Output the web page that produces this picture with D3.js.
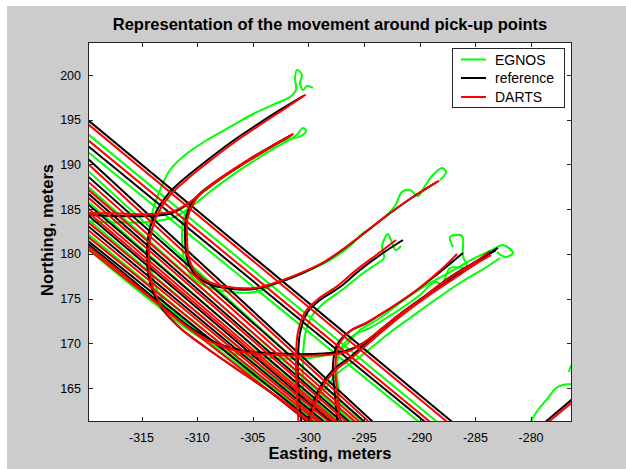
<!DOCTYPE html>
<html>
<head>
<meta charset="utf-8">
<script src="https://cdn.jsdelivr.net/npm/d3@7"></script>
<style>
  body { margin: 0; background: #fff; }
  text { font-family: "Liberation Sans", Arial, sans-serif; fill: #000; }
</style>
</head>
<body>
<svg id="chart" width="626" height="469"></svg>
<script>
// axis ticks
const xTicks = [-315, -310, -305, -300, -295, -290, -285, -280];
const yTicks = [165, 170, 175, 180, 185, 190, 195, 200];
const xDomain = [-319.81, -276.32];
const yDomain = [161.2, 203.69];

const seriesNames = ['EGNOS', 'reference', 'DARTS'];
const seriesColors = ['#00ff00', '#000000', '#ff0000'];

// straight passes through the pick-up area (easting, northing)
const egnosStraight = [
  [[-320.5, 194.10], [-287.75, 160.5]],
  [[-320.5, 192.09], [-289.37, 160.5]],
  [[-320.5, 190.08], [-294.49, 160.5]],
  [[-320.5, 188.29], [-295.39, 160.5]],
  [[-320.5, 186.61], [-296.56, 160.5]],
  [[-320.5, 184.60], [-297.82, 160.5]],
  [[-320.5, 182.92], [-298.71, 160.5]],
  [[-320.5, 181.36], [-298.26, 160.5]]
];
const referenceStraight = [
  [[-320.5, 195.67], [-286.40, 160.5]],
  [[-320.5, 192.76], [-288.83, 160.5]],
  [[-320.5, 191.42], [-293.59, 160.5]],
  [[-320.5, 189.41], [-294.31, 160.5]],
  [[-320.5, 187.51], [-295.66, 160.5]],
  [[-320.5, 186.28], [-296.29, 160.5]],
  [[-320.5, 185.05], [-297.28, 160.5]],
  [[-320.5, 183.82], [-297.91, 160.5]],
  [[-320.5, 182.14], [-298.89, 160.5]],
  [[-279.38, 160.5], [-275.96, 164.11]]
];
const dartsStraight = [
  [[-320.5, 195.22], [-286.85, 160.5]],
  [[-320.5, 193.43], [-288.38, 160.5]],
  [[-320.5, 190.86], [-293.95, 160.5]],
  [[-320.5, 188.85], [-294.76, 160.5]],
  [[-320.5, 187.95], [-295.12, 160.5]],
  [[-320.5, 187.06], [-295.93, 160.5]],
  [[-320.5, 185.83], [-296.74, 160.5]],
  [[-320.5, 185.38], [-297.01, 160.5]],
  [[-320.5, 184.26], [-297.46, 160.5]],
  [[-320.5, 183.37], [-298.17, 160.5]],
  [[-320.5, 182.59], [-298.44, 160.5]],
  [[-320.5, 181.20], [-299.25, 160.5]],
  [[-279.11, 160.5], [-275.96, 163.77]]
];

// turning tracks to and from the pick-up points
const egnosTurns = [
  [[-299.59,198.55],[-300.13,198.77],[-300.49,198.32],[-300.76,199.11],[-300.58,200.00],[-301.03,200.56],[-301.21,199.66],[-301.12,198.32],[-301.66,197.54],[-302.83,196.87],[-304.81,195.75],[-307.05,194.19],[-309.12,192.73],[-311.09,191.05],[-312.44,189.38],[-313.34,187.14],[-313.97,184.90],[-314.33,182.11],[-314.24,179.31],[-313.79,176.52],[-312.80,174.28],[-311.09,172.04],[-308.67,169.81],[-305.70,167.01],[-302.56,164.22],[-298.79,160.5]],
  [[-300.94,193.40],[-300.49,194.07],[-300.22,193.74],[-300.67,193.18],[-302.02,192.73],[-304.27,191.39],[-306.15,189.82],[-308.13,188.26],[-309.75,186.80],[-310.74,185.35],[-311.27,183.67],[-311.36,181.55],[-311.18,179.43],[-310.64,177.75],[-309.48,176.52],[-307.59,175.85],[-304.81,175.73],[-302.29,177.08],[-300.76,177.75],[-298.07,179.31],[-296.27,180.88],[-295.19,182.22],[-293.57,183.67],[-292.23,185.35],[-291.60,186.92],[-290.88,187.14],[-290.16,186.47],[-289.53,187.59],[-288.90,188.71],[-288.00,189.60],[-287.64,189.15],[-288.18,188.26]],
  [[-320.5,183.70],[-316.93,183.50],[-314.24,183.60],[-312.10,184.10],[-310.50,185.30],[-309.10,186.70],[-307.40,188.30],[-305.40,190.00],[-303.20,191.70],[-301.40,193.00],[-300.90,193.50]],
  [[-300.31,160.5],[-300.49,164.22],[-300.49,168.13],[-300.31,170.93],[-299.68,173.05],[-298.61,174.50],[-296.99,175.96],[-295.19,177.75],[-293.75,178.98],[-293.21,179.54],[-293.39,180.88],[-292.86,182.22],[-292.59,181.55],[-292.14,180.43],[-291.69,180.88]],
  [[-297.08,160.5],[-297.26,164.22],[-297.44,167.35],[-297.08,169.47],[-295.91,170.93],[-294.47,171.71],[-292.86,172.94],[-291.33,174.17],[-289.98,175.40],[-288.63,176.85],[-288.00,176.63],[-287.28,178.42],[-285.76,178.53],[-286.12,179.76],[-286.21,182.00],[-287.28,181.89],[-287.01,180.77]],
  [[-320.5,181.26],[-316.93,177.52],[-314.24,174.84],[-310.64,171.37],[-308.40,169.70],[-306.15,168.69],[-303.46,168.35],[-299.86,168.35],[-297.17,169.25],[-295.37,171.49],[-293.57,172.83],[-291.78,174.50],[-289.53,176.41],[-287.28,177.97],[-285.04,179.54],[-283.51,180.43],[-282.52,180.99],[-281.62,180.10],[-282.34,179.65],[-283.06,180.21]],
  [[-299.77,160.5],[-298.79,164.22],[-297.35,166.68],[-295.73,168.13],[-294.29,169.59],[-292.50,171.37],[-290.88,172.83],[-288.63,174.84],[-286.39,176.74],[-284.14,178.42],[-282.79,179.54]],
  [[-280.37,160.5],[-279.38,162.54],[-278.48,163.88],[-277.76,165.00],[-277.13,165.34],[-275.96,165.45]],
  [[-276.59,166.79],[-276.41,167.46],[-275.96,167.91]]
];
const referenceTurns = [
  [[-300.49,197.65],[-302.56,196.09],[-304.81,194.30],[-307.05,192.40],[-309.30,190.27],[-311.09,188.48],[-312.62,186.69],[-313.61,184.90],[-314.24,182.89],[-314.51,180.43],[-314.42,177.97],[-313.97,175.73],[-313.07,173.72],[-311.54,171.71],[-309.30,169.59],[-306.60,167.24],[-303.46,164.55],[-299.41,160.5]],
  [[-301.66,193.18],[-303.46,191.95],[-305.70,190.27],[-307.77,188.59],[-309.48,187.03],[-310.47,185.69],[-311.01,184.01],[-311.09,181.77],[-310.92,179.54],[-310.38,177.97],[-309.30,176.85],[-307.50,176.18],[-304.81,176.07],[-302.29,176.97],[-300.31,177.97],[-298.69,178.98],[-296.72,180.66],[-295.19,182.11],[-293.13,184.12],[-290.88,186.13],[-288.45,188.04]],
  [[-320.5,184.35],[-316.93,184.23],[-314.24,184.23],[-312.26,184.57],[-310.83,185.58],[-309.48,186.92],[-307.77,188.48],[-305.70,190.16],[-303.46,191.84],[-301.57,193.29]],
  [[-300.58,160.5],[-300.85,164.22],[-300.94,168.13],[-300.76,171.15],[-300.13,173.39],[-298.96,174.84],[-297.17,176.29],[-295.37,178.20],[-293.30,180.10],[-291.51,181.55]],
  [[-297.35,160.5],[-297.62,164.22],[-297.80,167.57],[-297.44,169.81],[-296.27,171.37],[-294.92,172.16],[-293.30,173.39],[-291.78,174.62],[-290.25,175.96],[-288.18,177.97],[-286.12,180.10]],
  [[-320.5,181.81],[-316.93,178.20],[-314.24,175.40],[-310.64,171.82],[-308.40,170.14],[-306.15,169.25],[-303.46,168.91],[-299.86,168.80],[-296.72,169.14],[-295.10,170.03],[-293.13,171.93],[-291.78,173.27],[-289.53,175.29],[-287.28,177.41],[-285.04,179.09],[-282.97,180.66]],
  [[-300.22,160.5],[-299.23,164.44],[-297.80,167.01],[-296.27,168.47],[-294.83,170.03],[-293.13,171.82],[-291.60,173.39],[-289.26,175.51],[-287.10,177.30],[-284.95,179.09],[-283.15,180.43]]
];
const dartsTurns = [
  [[-300.25,197.80],[-302.40,196.02],[-304.65,194.18],[-306.90,192.26],[-309.15,190.12],[-310.95,188.30],[-312.48,186.50],[-313.45,184.72],[-314.05,182.75],[-314.33,180.35],[-314.25,177.92],[-313.80,175.62],[-312.90,173.60],[-311.36,171.55],[-309.10,169.42],[-306.38,167.08],[-303.20,164.40],[-299.05,160.5]],
  [[-301.45,193.30],[-303.30,192.05],[-305.55,190.40],[-307.62,188.72],[-309.35,187.12],[-310.30,185.75],[-310.85,184.05],[-310.92,181.80],[-310.75,179.60],[-310.20,178.05],[-309.12,176.97],[-307.35,176.32],[-304.70,176.22],[-302.20,177.12],[-300.20,178.12],[-298.55,179.12],[-296.60,180.80],[-295.05,182.25],[-293.00,184.25],[-290.75,186.25],[-288.25,188.20]],
  [[-320.5,184.60],[-316.93,184.50],[-314.24,184.45],[-312.20,184.75],[-310.70,185.75],[-309.35,187.05],[-307.62,188.62],[-305.55,190.30],[-303.30,191.98],[-301.35,193.45]],
  [[-300.85,160.5],[-301.05,164.22],[-301.12,168.13],[-300.95,171.20],[-300.30,173.50],[-299.10,174.98],[-297.35,176.45],[-295.55,178.35],[-293.55,180.20],[-292.14,181.55]],
  [[-297.10,160.5],[-297.40,164.22],[-297.58,167.60],[-297.25,169.90],[-296.10,171.50],[-294.78,172.30],[-293.18,173.52],[-291.65,174.76],[-290.15,176.08],[-288.20,178.10],[-286.65,179.98]],
  [[-320.5,181.55],[-316.93,178.00],[-314.24,175.20],[-310.64,171.62],[-308.40,169.95],[-306.15,169.05],[-303.46,168.72],[-299.86,168.62],[-296.80,168.95],[-295.25,169.85],[-293.30,171.75],[-291.95,173.10],[-289.70,175.10],[-287.45,177.20],[-285.25,178.88],[-283.69,180.32]],
  [[-300.00,160.5],[-299.05,164.35],[-297.65,166.90],[-296.12,168.35],[-294.70,169.90],[-293.00,171.70],[-291.48,173.25],[-289.15,175.38],[-287.00,177.18],[-284.85,178.95],[-283.60,179.85]]
];

const svg = d3.select('#chart');
const margin = { left: 88, top: 42, right: 572, bottom: 422 };

const x = d3.scaleLinear().domain(xDomain).range([margin.left, margin.right]);
const y = d3.scaleLinear().domain(yDomain).range([margin.bottom, margin.top]);

// figure background
svg.append('rect').attr('x', 7).attr('y', 6).attr('width', 619).attr('height', 463).attr('fill', '#cccccc');

svg.append('defs').append('clipPath').attr('id', 'plot-clip')
  .append('rect')
  .attr('x', margin.left).attr('y', margin.top)
  .attr('width', margin.right - margin.left).attr('height', margin.bottom - margin.top);

svg.append('rect')
  .attr('x', margin.left).attr('y', margin.top)
  .attr('width', margin.right - margin.left).attr('height', margin.bottom - margin.top)
  .attr('fill', '#fff');

const line = d3.line()
  .x(d => x(d[0]))
  .y(d => y(d[1]))
  .curve(d3.curveCatmullRom.alpha(0.5));

const plot = svg.append('g').attr('clip-path', 'url(#plot-clip)');

const layers = [
  egnosStraight.concat(egnosTurns),
  referenceStraight.concat(referenceTurns),
  dartsStraight.concat(dartsTurns)
];

layers.forEach((tracks, i) => {
  plot.append('g')
    .attr('class', 'series-' + i)
    .selectAll('path')
    .data(tracks)
    .join('path')
    .attr('d', line)
    .attr('fill', 'none')
    .attr('stroke', seriesColors[i])
    .attr('stroke-width', 2)
    .attr('stroke-linejoin', 'round');
});

// axes, MATLAB style: ticks inside on all four sides
const tickLen = 5;
const axisColor = '#262626';
const axes = svg.append('g');

axes.append('rect')
  .attr('x', margin.left + 0.5).attr('y', margin.top + 0.5)
  .attr('width', margin.right - margin.left - 1).attr('height', margin.bottom - margin.top - 1)
  .attr('fill', 'none').attr('stroke', axisColor).attr('stroke-width', 1);

xTicks.forEach(t => {
  const px = Math.round(x(t)) + 0.5;
  axes.append('line').attr('x1', px).attr('x2', px)
    .attr('y1', margin.bottom).attr('y2', margin.bottom - tickLen)
    .attr('stroke', axisColor);
  axes.append('line').attr('x1', px).attr('x2', px)
    .attr('y1', margin.top).attr('y2', margin.top + tickLen)
    .attr('stroke', axisColor);
  axes.append('text')
    .attr('x', x(t)).attr('y', 442)
    .attr('text-anchor', 'middle')
    .attr('font-size', 12.5)
    .text(t);
});

yTicks.forEach(t => {
  const py = Math.round(y(t)) + 0.5;
  axes.append('line').attr('x1', margin.left).attr('x2', margin.left + tickLen)
    .attr('y1', py).attr('y2', py)
    .attr('stroke', axisColor);
  axes.append('line').attr('x1', margin.right).attr('x2', margin.right - tickLen)
    .attr('y1', py).attr('y2', py)
    .attr('stroke', axisColor);
  axes.append('text')
    .attr('x', 81).attr('y', y(t) + 4.5)
    .attr('text-anchor', 'end')
    .attr('font-size', 12.5)
    .text(t);
});

svg.append('text')
  .attr('x', 330).attr('y', 29.5)
  .attr('text-anchor', 'middle')
  .attr('font-size', 16.5).attr('font-weight', 'bold')
  .text('Representation of the movement around pick-up points');

svg.append('text')
  .attr('x', 330).attr('y', 459)
  .attr('text-anchor', 'middle')
  .attr('font-size', 16.5).attr('font-weight', 'bold')
  .text('Easting, meters');

svg.append('text')
  .attr('transform', 'translate(53,230) rotate(-90)')
  .attr('text-anchor', 'middle')
  .attr('font-size', 16.5).attr('font-weight', 'bold')
  .text('Northing, meters');

// legend
const legend = svg.append('g');
legend.append('rect')
  .attr('x', 452.5).attr('y', 48.5).attr('width', 112).attr('height', 59)
  .attr('fill', '#fff').attr('stroke', axisColor);

const legendY = [59.5, 78, 97];
seriesNames.forEach((name, i) => {
  legend.append('line')
    .attr('x1', 461).attr('x2', 486)
    .attr('y1', legendY[i]).attr('y2', legendY[i])
    .attr('stroke', seriesColors[i]).attr('stroke-width', 2);
  legend.append('text')
    .attr('x', 495).attr('y', legendY[i] + 5.3)
    .attr('font-size', 14)
    .text(name);
});
</script>
</body>
</html>
